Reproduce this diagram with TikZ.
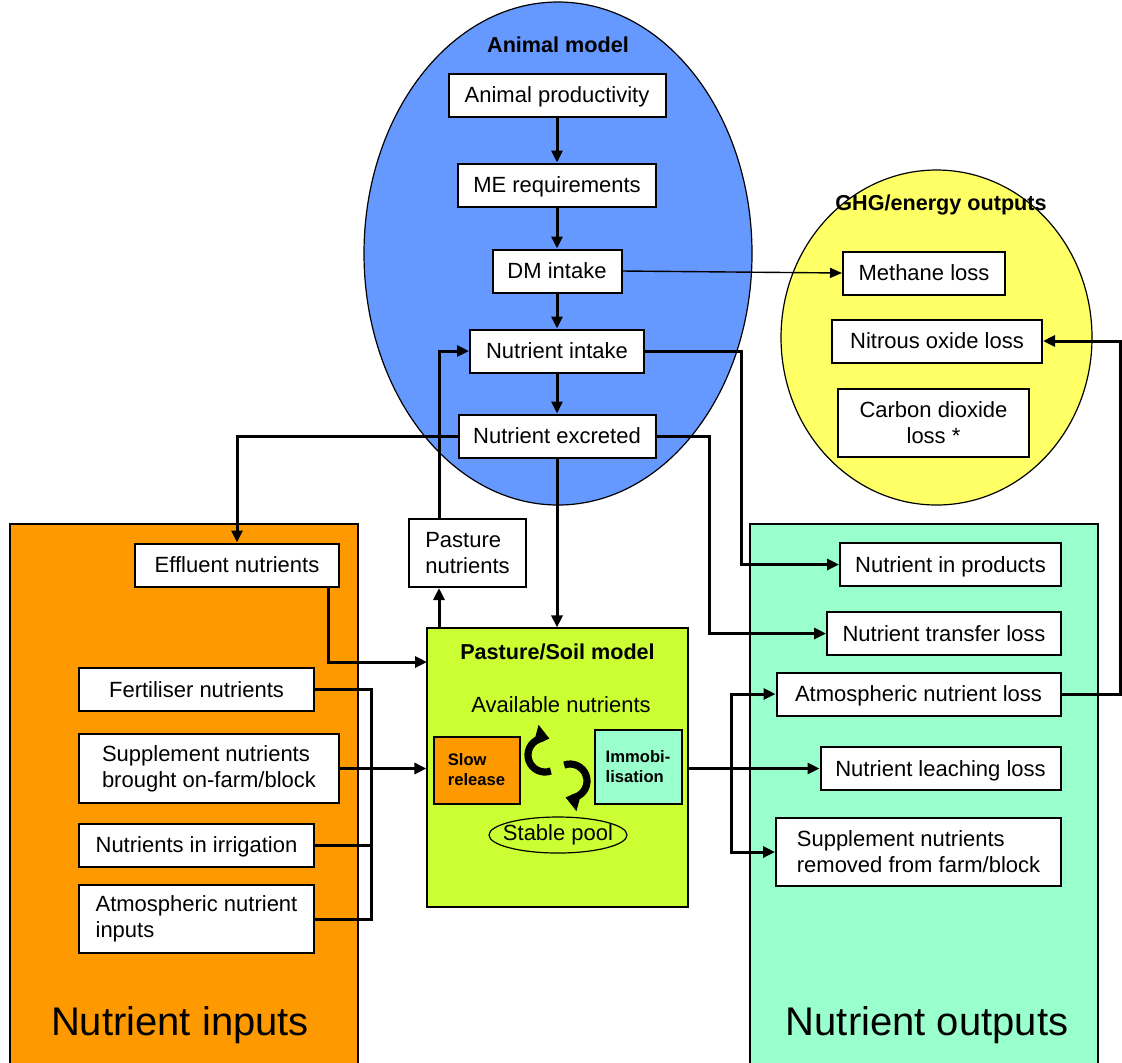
\documentclass[tikz,border=0pt]{standalone}
\usepackage{fontspec}
\setmainfont{Liberation Sans}
\usetikzlibrary{arrows.meta,positioning,calc,shapes.geometric}
\definecolor{animalblue}{HTML}{6699FF}
\definecolor{ghgyellow}{HTML}{FFFF66}
\definecolor{inorange}{HTML}{FF9900}
\definecolor{outmint}{HTML}{99FFCC}
\definecolor{soilgreen}{HTML}{CCFF33}
\tikzset{
  cell/.style={draw, line width=1pt, fill=white, inner sep=2pt, minimum height=21.5pt, font=\fontsize{11}{13}\selectfont},
  box/.style={cell, text height=8.4pt, text depth=0.6pt},
  box2/.style={cell, align=left},
  smallbox/.style={draw, line width=1pt, align=left, inner sep=2pt, font=\fontsize{8.3}{10}\selectfont\bfseries},
  area/.style={draw, line width=0.6pt},
  hdr/.style={font=\fontsize{10.8}{13}\selectfont\bfseries},
  bigtxt/.style={font=\fontsize{20}{24}\selectfont},
  wire/.style={line width=1.5pt},
  arr/.style={-{Triangle[length=6pt,width=5.5pt]}, line width=1.5pt},
  thinarr/.style={-{Triangle[length=6pt,width=5pt]}, line width=0.7pt},
  cyc/.style={-{Triangle[length=7pt,width=10pt]}, line width=3.6pt}}

\begin{document}
\begin{tikzpicture}[x=0.5pt, y=-0.5pt]
  \useasboundingbox (0,0) rectangle (1122,1062);
  % input / output blocks
  \draw[area, fill=inorange] (10,524) rectangle (358,1080);
  \draw[area, fill=outmint] (750,524) rectangle (1098,1080);
  \node[bigtxt] (inlbl) at (180,1025) {Nutrient inputs};
  \node[bigtxt] (outlbl) at (927,1025) {Nutrient outputs};
  % model ovals
  \node[area, ellipse, fill=animalblue, minimum width=194pt, minimum height=251.5pt] (am) at (558,253.5) {};
  \node[area, ellipse, fill=ghgyellow, minimum width=155.5pt, minimum height=167.5pt] (ghg) at (936.5,337.5) {};
  \node[hdr] (amhdr) at (558,45) {Animal model};
  \node[hdr] (ghghdr) at (941,205) {GHG/energy outputs};
  % pasture/soil model
  \node[area, fill=soilgreen, minimum width=130.5pt, minimum height=139.5pt] (soil) at (557.5,767.5) {};
  \node[hdr] (soilhdr) at (557.5,652) {Pasture/Soil model};
  \node[font=\fontsize{11}{13}\selectfont] (avail) at (561,705) {Available nutrients};
  \node[smallbox, fill=inorange, minimum width=43pt, minimum height=33.5pt] (slow) at (476.5,770) {Slow\\release};
  \node[smallbox, fill=outmint, minimum width=43.5pt, minimum height=37pt] (immob) at (638,766.5) {Immobi-\\lisation};
  \node[font=\fontsize{11}{13}\selectfont] (stable) at (558,835) {Stable pool};
  \draw[area] (stable.center) ellipse[x radius=69, y radius=18];
  \draw[cyc] ([shift={(70:17)}]545,755) arc[start angle=70, end angle=285, radius=17];
  \draw[cyc] ([shift={(250:17)}]570,781) arc[start angle=250, end angle=465, radius=17];
  % animal chain
  \node[box, minimum width=108.5pt] (prod) at (557,95) {Animal productivity};
  \node[box, minimum width=99pt, below=22.5pt of prod] (mereq) {ME requirements};
  \node[box, minimum width=64.5pt, below=20.5pt of mereq] (dmint) {DM intake};
  \node[box, minimum width=87pt, below=17.5pt of dmint] (nutint) {Nutrient intake};
  \node[box, minimum width=98.5pt, below=20pt of nutint] (nutexc) {Nutrient excreted};
  % GHG outputs
  \node[box, minimum width=81pt] (methane) at (924,273) {Methane loss};
  \node[box, minimum width=105pt] (nitrous) at (937,341) {Nitrous oxide loss};
  \node[box2, align=center, minimum width=95.5pt, minimum height=34pt] (carbon) at (933.5,423) {Carbon dioxide\\loss *};
  % inputs
  \node[box, minimum width=102pt] (effl) at (237,565) {Effluent nutrients};
  \node[box2, minimum width=58.5pt, minimum height=34pt] (past) at (467.5,553) {Pasture\\nutrients};
  \node[box, minimum width=117.5pt] (fert) at (196.5,689.5) {Fertiliser nutrients};
  \node[box2, minimum width=130pt, minimum height=34.5pt] (supin) at (209,768.5) {Supplement nutrients\\brought on-farm/block};
  \node[box, minimum width=117.5pt] (irrig) at (196.5,845) {Nutrients in irrigation};
  \node[box2, minimum width=117.5pt, minimum height=34pt] (atmin) at (196.5,919) {Atmospheric nutrient\\inputs};
  % outputs
  \node[box, minimum width=110.5pt] (prodout) at (950.5,564.5) {Nutrient in products};
  \node[box, minimum width=117pt] (transfer) at (944,633.5) {Nutrient transfer loss};
  \node[box, minimum width=142pt] (atmloss) at (918.5,694) {Atmospheric nutrient loss};
  \node[box, minimum width=120pt] (leach) at (940.5,768.5) {Nutrient leaching loss};
  \node[box2, minimum width=142.5pt, minimum height=34pt] (supout) at (918.5,852) {Supplement nutrients\\removed from farm/block};
  % helper coordinates
  \coordinate (pastx) at (439,0);
  \coordinate (effx) at (328,0);
  \coordinate (effin) at (427,662);
  \coordinate (inbus) at (371,0);
  \coordinate (outbus) at (731,0);
  % connectors
  \draw[arr] (prod) -- (mereq); \draw[arr] (mereq) -- (dmint);
  \draw[arr] (dmint) -- (nutint); \draw[arr] (nutint) -- (nutexc);
  \draw[thinarr] (dmint.east) -- (methane.west);
  \draw[arr] (nutint.east) -- ++(96,0) |- (prodout.west);
  \draw[arr] (nutexc.east) -- ++(53,0) |- (transfer.west);
  \draw[arr] (nutexc.west) -| (effl.north);
  \draw[arr] (nutexc.south) -- (nutexc.south |- soil.north);
  \draw[arr] (pastx |- soil.north) -- (pastx |- past.south);
  \draw[arr] (pastx |- past.north) |- (nutint.west);
  \draw[arr] (effx |- effl.south) |- (effin);
  \draw[wire] (fert.east) -| (inbus |- atmin.east) -- (atmin.east);
  \draw[wire] (irrig.east) -- (inbus |- irrig.east);
  \draw[arr] (supin.east) -- (supin.east -| soil.west);
  \draw[arr] (soil.east |- leach.west) -- (leach.west);
  \draw[arr] (outbus |- leach.west) |- (atmloss.west);
  \draw[arr] (outbus |- leach.west) |- (supout.west);
  \draw[arr] (atmloss.east) -- ++(59,0) |- (nitrous.east);
\end{tikzpicture}
\end{document}
